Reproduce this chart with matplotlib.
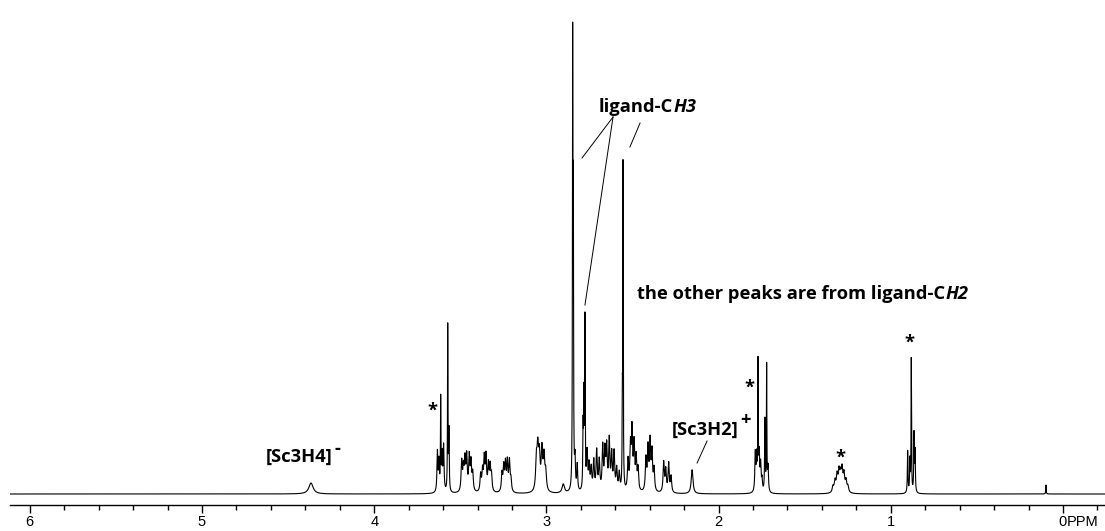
import numpy as np
import matplotlib.pyplot as plt
from matplotlib.ticker import MultipleLocator

# peak list: shift (ppm), height above baseline, half width (ppm)
sc3h4_ppm = [4.367]
sc3h4_h = [11]
sc3h4_w = [0.015]

m36_ppm = [3.633, 3.624, 3.614, 3.606, 3.597, 3.573, 3.566]
m36_h = [40, 30, 90, 36, 45, 165, 60]
m36_w = [0.003, 0.003, 0.0015, 0.003, 0.003, 0.0015, 0.002]

m346_ppm = [3.492, 3.482, 3.473, 3.463, 3.448, 3.438, 3.428]
m346_h = [30, 22, 30, 34, 34, 28, 18]

m335_ppm = [3.382, 3.371, 3.361, 3.351, 3.337, 3.327, 3.319]
m335_h = [17, 20, 32, 34, 26, 24, 16]

m323_ppm = [3.258, 3.248, 3.238, 3.227, 3.215, 3.206]
m323_h = [18, 24, 27, 29, 30, 12]

m303_ppm = [3.058, 3.050, 3.041, 3.026, 3.014, 3.004, 2.902]
m303_h = [30, 38, 33, 40, 33, 18, 9]

m28_ppm = [2.8475, 2.8435, 2.834, 2.821, 2.787, 2.782, 2.776, 2.764, 2.752,
           2.740, 2.725, 2.708, 2.693, 2.673, 2.660, 2.650, 2.635, 2.621,
           2.607, 2.592, 2.577]
m28_h = [435, 275, 30, 26, 60, 90, 165, 38, 25, 22, 30, 40, 30, 44, 38, 42,
         50, 36, 38, 22, 18]
m28_w = [0.0015, 0.0015, 0.003, 0.003, 0.002, 0.002, 0.0015] + [0.004] * 14

m25_ppm = [2.559, 2.555, 2.526, 2.512, 2.503, 2.491, 2.479, 2.468,
           2.422, 2.410, 2.398, 2.387, 2.375, 2.319, 2.307, 2.290, 2.276]
m25_h = [75, 322, 30, 42, 58, 45, 32, 22, 32, 42, 48, 38, 22, 30, 22, 29, 16]
m25_w = [0.0015, 0.0015] + [0.004] * 15

sc3h2_ppm = [2.154]
sc3h2_h = [24]
sc3h2_w = [0.006]

m177_ppm = [1.787, 1.779, 1.771, 1.764, 1.756, 1.748, 1.731, 1.721, 1.713]
m177_h = [38, 34, 125, 36, 26, 12, 72, 125, 25]
m177_w = [0.003, 0.003, 0.0015, 0.003, 0.003, 0.003, 0.002, 0.0015, 0.003]

m13_ppm = [1.336, 1.324, 1.312, 1.301, 1.292, 1.283, 1.272, 1.260, 1.249]
m13_h = [6, 11, 16, 19, 15, 21, 17, 11, 6]

m088_ppm = [0.902, 0.889, 0.881, 0.865, 0.859, 0.099]
m088_h = [42, 32, 133, 58, 40, 9]
m088_w = [0.002, 0.002, 0.0015, 0.002, 0.002, 0.0015]

star_ppm = [3.664, 1.823, 1.295, 0.894]
star_y = [83, 106, 36, 151]

tick_ppm = [0, 1, 2, 3, 4, 5, 6]

peak_ppm = np.array(sc3h4_ppm + m36_ppm + m346_ppm + m335_ppm + m323_ppm + m303_ppm
                    + m28_ppm + m25_ppm + sc3h2_ppm + m177_ppm + m13_ppm + m088_ppm)
peak_h = np.array(sc3h4_h + m36_h + m346_h + m335_h + m323_h + m303_h
                  + m28_h + m25_h + sc3h2_h + m177_h + m13_h + m088_h, dtype=float)
peak_w = np.array(sc3h4_w + m36_w + [0.004] * 7 + [0.004] * 7 + [0.004] * 6
                  + [0.005] * 6 + [0.008] + m28_w + m25_w + sc3h2_w + m177_w
                  + [0.005] * 9 + m088_w)

# lorentzian line shapes
x = np.linspace(6.12, -0.25, 60000)
y = np.zeros_like(x)
for p, h, w in zip(peak_ppm, peak_h, peak_w):
    y += h * w**2 / ((x - p)**2 + w**2)

fig = plt.figure(figsize=(11.05, 5.31), dpi=100)
ax = fig.add_axes([10 / 1105, 26 / 531, 1095 / 1105, 505 / 531])
ax.plot(x, y, color='black', lw=0.8)
ax.set_xlim(6.115, -0.244)
ax.set_ylim(-11, 494)

for s in ['left', 'top', 'right']:
    ax.spines[s].set_visible(False)
ax.spines['bottom'].set_linewidth(1.0)
ax.set_yticks([])
ax.set_xticks(tick_ppm)
ax.set_xticklabels([str(t) for t in tick_ppm], family='Liberation Sans', fontsize=10.5)
ax.xaxis.set_minor_locator(MultipleLocator(0.2))
ax.tick_params(axis='x', which='major', direction='out', length=6, width=1, pad=1.5)
ax.tick_params(axis='x', which='minor', direction='out', length=3.6, width=1)
ax.annotate('PPM', xy=(-0.023, 0), xycoords=('data', 'axes fraction'),
            xytext=(0, -7.5), textcoords='offset points',
            family='Liberation Sans', fontsize=10.5, ha='left', va='top')

fs = 13.2
lab = dict(family='Open Sans', fontweight='bold', fontsize=fs)
for px, py in zip(star_ppm, star_y):
    ax.text(px, py, '*', ha='center', va='center', **lab)


def sup(t, s, dy):
    ax.annotate(s, xy=(1, 1), xycoords=t, xytext=(1, dy),
                textcoords='offset points', ha='left', va='top', **lab)


def ital(t, s):
    ax.annotate(s, xy=(1, 0), xycoords=t, ha='left', va='bottom',
                family='Open Sans', fontweight='bold', fontstyle='italic',
                fontsize=fs)


t1 = ax.text(4.628, 37, '[Sc3H4]', ha='left', va='center', **lab)
sup(t1, '-', 6)
t2 = ax.text(2.271, 64, '[Sc3H2]', ha='left', va='center', **lab)
sup(t2, '+', 7)
ax.plot([2.067, 2.125], [53, 31], color='black', lw=0.7)

t3 = ax.text(2.695, 387, 'ligand-C', ha='left', va='center', **lab)
ital(t3, 'H3')
ax.plot([2.613, 2.793], [377, 336], color='black', lw=0.7)
ax.plot([2.613, 2.776], [377, 189], color='black', lw=0.7)
ax.plot([2.456, 2.515], [371, 347], color='black', lw=0.7)

t4 = ax.text(2.474, 200, 'the other peaks are from ligand-C',
             ha='left', va='center', **lab)
ital(t4, 'H2')

fig.savefig('out.png', dpi=100)
